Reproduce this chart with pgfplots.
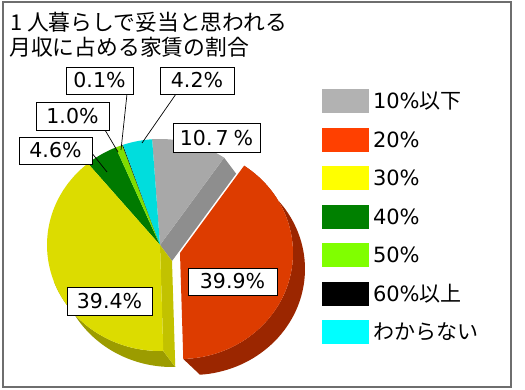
\documentclass[border=0pt]{standalone}
\usepackage{pgfplots}
\pgfplotsset{compat=1.18}
\usepackage{fontspec}
\setmainfont{DejaVu Sans}
\newfontfamily\jp{Noto Sans CJK JP}

\definecolor{legGray}{HTML}{B2B2B2}
\definecolor{legRed}{HTML}{FF4000}
\definecolor{legYel}{HTML}{FFFF00}
\definecolor{legGreen}{HTML}{008000}
\definecolor{legLime}{HTML}{80FF00}
\definecolor{legCyan}{HTML}{00FFFF}
\definecolor{grayT}{HTML}{A8A8A8}
\definecolor{grayS}{HTML}{8E8E8E}
\definecolor{redT}{HTML}{DD3C00}
\definecolor{redW}{HTML}{9B2600}
\definecolor{yelT}{HTML}{DCDC00}
\definecolor{yelW}{HTML}{9C9C00}
\definecolor{yelS}{HTML}{C2C200}
\definecolor{greenT}{HTML}{007A00}
\definecolor{limeT}{HTML}{7FDD00}
\definecolor{cyanT}{HTML}{00DDDD}
\definecolor{frameC}{HTML}{6E6E6E}

% shares (percent)
\def\vA{10.7}\def\vB{39.9}\def\vC{39.4}\def\vD{4.6}\def\vE{1.0}\def\vF{0.1}\def\vG{4.2}
\pgfmathsetmacro\k{360/(\vA+\vB+\vC+\vD+\vE+\vF+\vG)}
\pgfmathsetmacro\aA{-4}
\pgfmathsetmacro\aB{\aA+\k*\vA}
\pgfmathsetmacro\aC{\aB+\k*\vB}
\pgfmathsetmacro\aD{\aC+\k*\vC}
\pgfmathsetmacro\aE{\aD+\k*\vD}
\pgfmathsetmacro\aF{\aE+\k*\vE}
\pgfmathsetmacro\aG{\aF+\k*\vF}
\pgfmathsetmacro\aH{\aG+\k*\vG}
% geometry
\def\cx{160}\def\cy{245}\def\rx{113}\def\ry{106}
\def\dx{12}\def\dy{16}
\def\ex{180}\def\ey{253}
\pgfmathsetmacro\gx{\cx+\rx*sin(\aB)}\pgfmathsetmacro\gy{\cy-\ry*cos(\aB)}
\pgfmathsetmacro\gxd{\gx+\dx}\pgfmathsetmacro\gyd{\gy+\dy}
\pgfmathsetmacro\qx{\cx+\rx*sin(\aC)}\pgfmathsetmacro\qy{\cy-\ry*cos(\aC)}
\pgfmathsetmacro\qxd{\qx+\dx}\pgfmathsetmacro\qyd{\qy+\dy}
\pgfmathsetmacro\cxd{\cx+\dx}\pgfmathsetmacro\cyd{\cy+\dy}

\begin{document}
\begin{tikzpicture}
\begin{axis}[
  scale only axis, width=525pt, height=390pt,
  xmin=0, xmax=525, ymin=0, ymax=390, y dir=reverse,
  hide axis, clip=false,
  declare function={
    ang(\t,\a,\b)=ifthenelse(\t<=1,\a+(\b-\a)*\t,\b-(\b-\a)*(\t-1));
    sh(\t)=ifthenelse(\t>1,1,0);
  },
  legend style={at={(axis cs:322,89)}, anchor=north west, draw=none, fill=none,
    inner sep=0pt, outer sep=0pt, row sep=14.5pt, column sep=4pt,
    font=\fontsize{21}{21}\selectfont,
    nodes={inner sep=0pt, text height=15.3pt, text depth=0pt}},
  legend cell align=left,
  legend image code/.code={\fill[#1, draw=none] (0pt,-12pt) rectangle (47pt,12pt);},
]
\path (axis cs:0,0) rectangle (axis cs:525,390);

% gray slice: cut face and top
\addplot[fill=grayS, draw=none, forget plot] coordinates {(\cx,\cy) (\gx,\gy) (\gxd,\gyd) (\cxd,\cyd)} -- cycle;
\addplot[fill=grayT, draw=none, forget plot, domain=\aA:\aB, samples=40] ({\cx+\rx*sin(x)},{\cy-\ry*cos(x)}) -- (axis cs:\cx,\cy) -- cycle;
% small back slices
\addplot[fill=greenT, draw=none, forget plot, domain=\aD:\aE, samples=20] ({\cx+\rx*sin(x)},{\cy-\ry*cos(x)}) -- (axis cs:\cx,\cy) -- cycle;
\addplot[fill=limeT, draw=none, forget plot, domain=\aE:\aF, samples=8] ({\cx+\rx*sin(x)},{\cy-\ry*cos(x)}) -- (axis cs:\cx,\cy) -- cycle;
\addplot[fill=black, draw=none, forget plot, domain=\aF:\aG, samples=3] ({\cx+\rx*sin(x)},{\cy-\ry*cos(x)}) -- (axis cs:\cx,\cy) -- cycle;
\addplot[fill=cyanT, draw=none, forget plot, domain=\aG:\aH, samples=20] ({\cx+\rx*sin(x)},{\cy-\ry*cos(x)}) -- (axis cs:\cx,\cy) -- cycle;
% yellow slice: wall, cut face, top
\addplot[fill=yelW, draw=none, forget plot, domain=0:2, samples=121]
  ({\cx+\rx*sin(ang(x,\aC,250))+\dx*sh(x)},{\cy-\ry*cos(ang(x,\aC,250))+\dy*sh(x)}) -- cycle;
\addplot[fill=yelS, draw=none, forget plot] coordinates {(\cx,\cy) (\qx,\qy) (\qxd,\qyd) (\cxd,\cyd)} -- cycle;
\addplot[fill=yelT, draw=none, forget plot, domain=\aC:\aD, samples=60] ({\cx+\rx*sin(x)},{\cy-\ry*cos(x)}) -- (axis cs:\cx,\cy) -- cycle;
% red slice (exploded): wall and top
\addplot[fill=redW, draw=none, forget plot, domain=0:2, samples=121]
  ({\ex+\rx*sin(ang(x,\aB,\aC))+\dx*sh(x)},{\ey-\ry*cos(ang(x,\aB,\aC))+\dy*sh(x)}) -- cycle;
\addplot[fill=redT, draw=none, forget plot, domain=\aB:\aC, samples=60] ({\ex+\rx*sin(x)},{\ey-\ry*cos(x)}) -- (axis cs:\ex,\ey) -- cycle;

% legend
\addlegendimage{fill=legGray}\addlegendentry{10\%{\jp 以下}}
\addlegendimage{fill=legRed}\addlegendentry{20\%}
\addlegendimage{fill=legYel}\addlegendentry{30\%}
\addlegendimage{fill=legGreen}\addlegendentry{40\%}
\addlegendimage{fill=legLime}\addlegendentry{50\%}
\addlegendimage{fill=black}\addlegendentry{60\%{\jp 以上}}
\addlegendimage{fill=legCyan}\addlegendentry{{\jp わからない}}

% leader lines
\draw[black, line width=0.7pt] (axis cs:127,94) -- (axis cs:121,150);
\draw[black, line width=0.7pt] (axis cs:105,130) -- (axis cs:118,152);
\draw[black, line width=0.7pt] (axis cs:176,94) -- (axis cs:142,143);
\draw[black, line width=0.7pt] (axis cs:91,152) -- (axis cs:107,172);

% data labels
\tikzset{lbl/.style={draw=black, line width=0.8pt, fill=white, inner sep=0pt,
  text height=15pt, text depth=0pt, font=\fontsize{20.5}{20.5}\selectfont}}
\node[lbl, minimum width=67pt, minimum height=27pt] at (axis cs:99.5,80.5) {0.1\%};
\node[lbl, minimum width=74pt, minimum height=27pt] at (axis cs:197,80.5) {4.2\%};
\node[lbl, minimum width=73pt, minimum height=28pt] at (axis cs:72.5,116) {1.0\%};
\node[lbl, minimum width=73pt, minimum height=27pt] at (axis cs:55.5,150.5) {4.6\%};
\node[lbl, minimum width=87pt, minimum height=29pt] at (axis cs:216.5,138) {10.\hspace{3pt}7\hspace{5pt}\%};
\node[lbl, minimum width=89pt, minimum height=27pt] at (axis cs:232.5,281.5) {39.9\%};
\node[lbl, minimum width=85pt, minimum height=28pt] at (axis cs:109.5,301) {39.4\%};

% title
\node[anchor=base west, inner sep=0pt, font=\jp\fontsize{21.8}{21.8}\selectfont] at (axis cs:10,31) {1 人暮らしで妥当と思われる};
\node[anchor=base west, inner sep=0pt, font=\jp\fontsize{21.8}{21.8}\selectfont] at (axis cs:9,56) {月収に占める家賃の割合};

% frame
\draw[frameC, line width=2pt] (axis cs:3,2.5) rectangle (axis cs:511,387);
\end{axis}
\end{tikzpicture}
\end{document}
